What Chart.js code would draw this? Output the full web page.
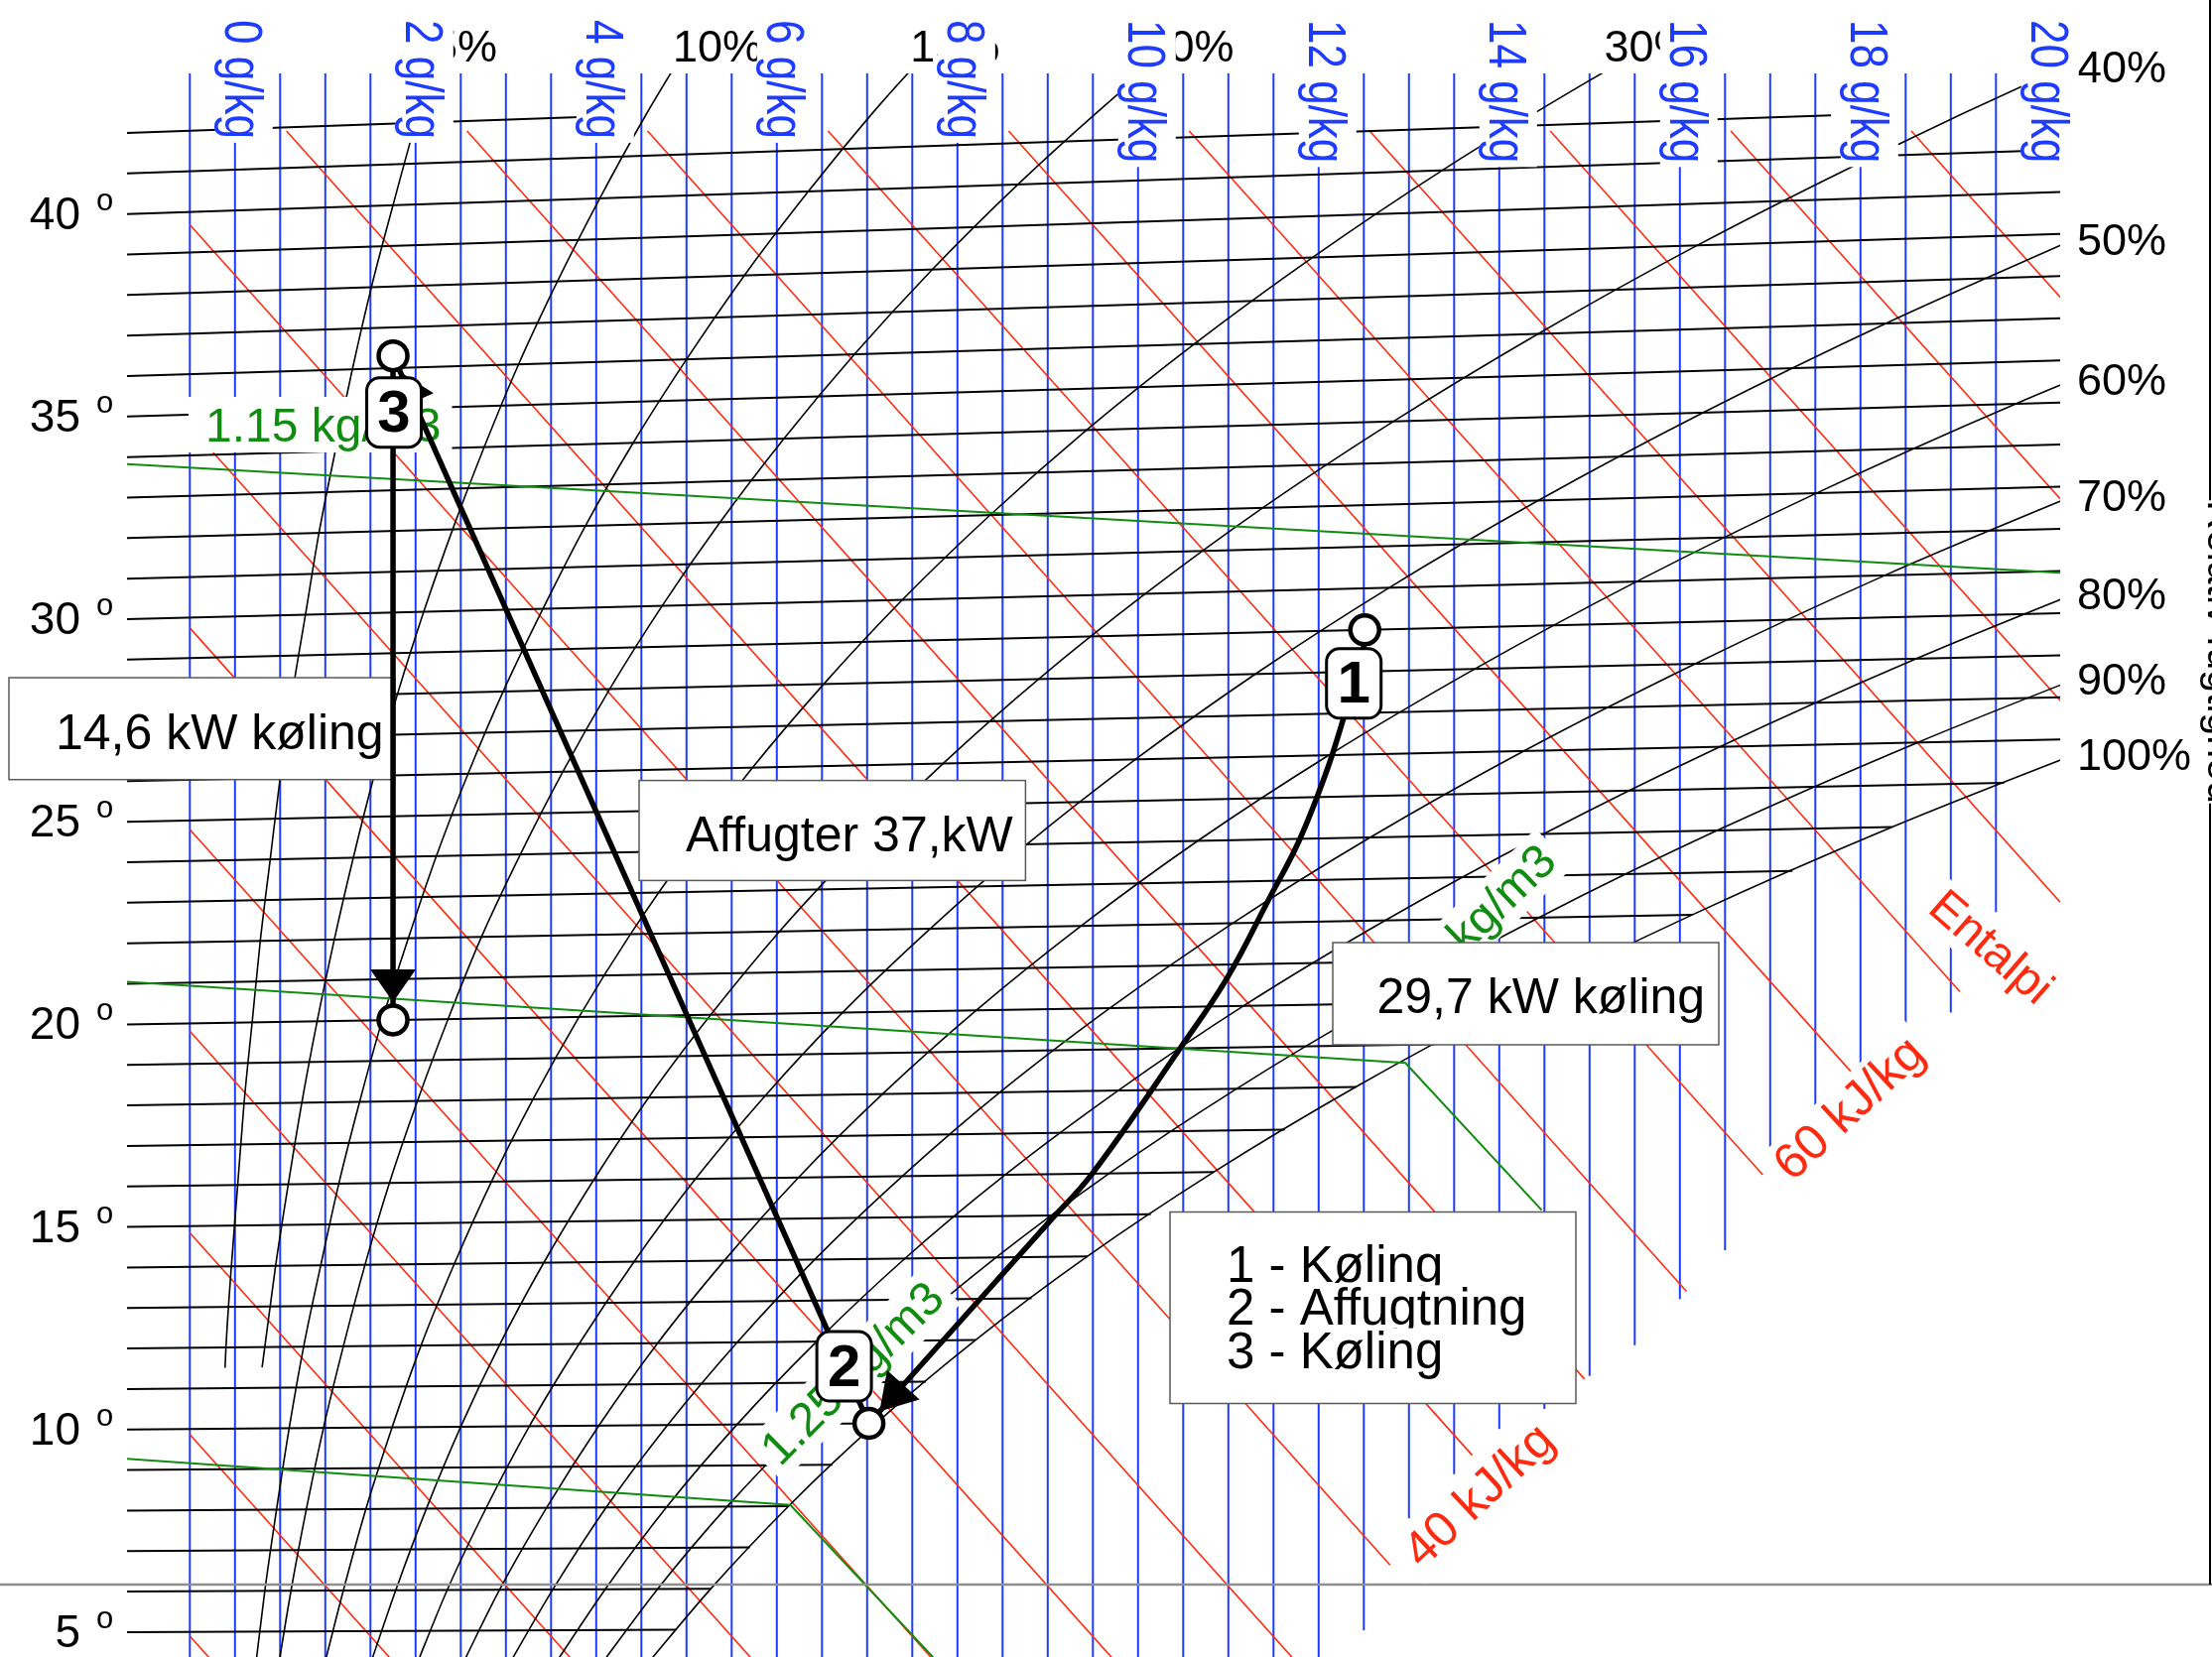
<!DOCTYPE html>
<html lang="da">
<head>
<meta charset="utf-8">
<title>h,x-diagram</title>
<script src="https://cdn.jsdelivr.net/npm/chart.js@4.4.1/dist/chart.umd.min.js"></script>
<style>
  html, body { margin: 0; padding: 0; background: #ffffff; }
  canvas { display: block; }
</style>
</head>
<body>
<canvas id="hx" width="2229" height="1670"></canvas>
<script>
// values: humidity ratio in g/kg (as labelled), temperatures in °C
const tempTicks = [5, 10, 15, 20, 25, 30, 35, 40];
const waterTicks = [0, 2, 4, 6, 8, 10, 12, 14, 16, 18, 20];
const enthalpyLines = [5, 10, 15, 20, 25, 30, 35, 40, 45, 50, 55, 60, 65, 70, 75, 80, 85, 90];

const rhLevels = [5, 10, 15, 20, 30, 40, 50, 60, 70, 80, 90, 100];
const rhTemps = [4, 6, 8, 10, 12, 14, 16, 18, 20, 22, 24, 26, 28, 30, 32, 34, 36, 38, 40, 42, 44];
const rh5   = [null, null, null, null, -0.10, -0.04, 0.03, 0.10, 0.19, 0.28, 0.39, 0.50, 0.63, 0.78, 0.93, 1.11, 1.30, 1.51, 1.75, 2.00, 2.28];
const rh10  = [null, null, null, null, 0.33, 0.45, 0.59, 0.74, 0.91, 1.10, 1.31, 1.54, 1.80, 2.09, 2.41, 2.76, 3.14, 3.57, 4.04, 4.55, 5.11];
const rh15  = [0.22, 0.33, 0.46, 0.60, 0.76, 0.95, 1.15, 1.38, 1.63, 1.92, 2.23, 2.58, 2.97, 3.41, 3.88, 4.41, 5.00, 5.64, 6.35, 7.12, 7.98];
const rh20  = [0.47, 0.62, 0.79, 0.98, 1.20, 1.44, 1.71, 2.02, 2.36, 2.73, 3.16, 3.63, 4.15, 4.73, 5.37, 6.08, 6.86, 7.72, 8.67, 9.72, 10.86];
const rh30  = [0.97, 1.20, 1.45, 1.74, 2.06, 2.43, 2.84, 3.30, 3.81, 4.38, 5.02, 5.73, 6.52, 7.39, 8.36, 9.43, 10.62, 11.93, 13.37, 14.97, 16.72];
const rh40  = [1.47, 1.78, 2.12, 2.50, 2.93, 3.42, 3.97, 4.58, 5.27, 6.03, 6.89, 7.84, 8.90, 10.08, 11.38, 12.83, 14.43, 16.19, 18.15, 20.30, 22.68];
const rh50  = [1.98, 2.35, 2.78, 3.26, 3.81, 4.42, 5.10, 5.87, 6.73, 7.70, 8.77, 9.97, 11.30, 12.78, 14.43, 16.26, 18.28, 20.52];
const rh60  = [2.48, 2.93, 3.45, 4.03, 4.68, 5.42, 6.24, 7.17, 8.21, 9.37, 10.66, 12.11, 13.73, 15.52, 17.51, 19.72, 22.18];
const rh70  = [2.99, 3.52, 4.11, 4.79, 5.56, 6.42, 7.39, 8.47, 9.69, 11.05, 12.57, 14.27, 16.17, 18.27, 20.62];
const rh80  = [3.49, 4.10, 4.78, 5.56, 6.44, 7.42, 8.53, 9.78, 11.17, 12.74, 14.49, 16.44, 18.62, 21.05];
const rh90  = [4.00, 4.68, 5.45, 6.33, 7.32, 8.43, 9.68, 11.09, 12.67, 14.44, 16.41, 18.63, 21.10];
const rh100 = [4.50, 5.27, 6.13, 7.10, 8.20, 9.44, 10.84, 12.41, 14.17, 16.14, 18.35, 20.83];
const rhLowStartT = 11.5;                 // 5 % and 10 % curves stop here
const rhLowStartX = { 5: -0.11, 10: 0.30 };

// density lines (kg/m3): x and temperature of their read points
const densityNames = ['1.15 kg/m3', '1.20 kg/m3', '1.25 kg/m3'];
const dens115X = [-1.20, 20.21], dens115T = [33.83, 29.96];
const dens120X = [-1.20, 12.96, 14.47], dens120T = [21.05, 18.56, 14.98];
const dens125X = [-1.20, 6.15, 7.73], dens125T = [9.28, 8.03, 4.31];

// lower right edge where the blue and red lines stop
const fogEdgeX = [12.0, 12.5, 13.0, 13.5, 14.0, 14.5, 15.0, 15.5, 16.0, 16.5, 17.0, 17.5, 18.0, 18.5, 19.0, 19.5, 20.3];
const fogEdgeT = [3.0, 4.92, 7.61, 8.66, 9.74, 10.21, 10.99, 11.72, 12.81, 13.97, 16.08, 17.24, 18.28, 19.04, 19.56, 21.93, 22.0];

// air states 1, 2, 3 and end of cooling 3
const stateX = [12.51, 7.02, 1.75, 1.75];
const stateT = [29.0, 10.0, 36.3, 20.0];
const coolPathX = [12.51, 12.49, 12.28, 12.08, 11.78, 11.46, 10.99, 10.47, 9.49, 9.01, 7.02];
const coolPathT = [29.0, 28.5, 26.92, 25.57, 23.94, 22.61, 20.69, 19.01, 15.99, 14.83, 10.0];

// ---- diagram geometry ----
const SKEW = 0.001849, X_OFF = 0.53;
const X_MIN = -1.1956, X_MAX = 20.211, Y_MIN = 4.380, Y_MAX = 43.416;
const RED_TOP = 41.997, ISO_TOP = 42.38;
const vOf = (t, x) => t * (1 + SKEW * (x + X_OFF));
const hV = (h, x) => (h - 2.501 * (x + X_OFF)) / 1.006;

const BLUE = '#1e3cff', RED = '#ff2b10', GREEN = '#108c10';
const FONT = '"Liberation Sans", Arial, Helvetica, sans-serif';
const fnt = (s, b) => (b ? 'bold ' : '') + s + 'px ' + FONT;

function interp(xs, ys, v) {
  for (let i = 0; i < xs.length - 1; i++) {
    if (ys[i] == null || ys[i + 1] == null) continue;
    if (v >= xs[i] && v <= xs[i + 1]) return ys[i] + (ys[i + 1] - ys[i]) * (v - xs[i]) / (xs[i + 1] - xs[i]);
  }
  return null;
}
const fogV = fogEdgeX.map((x, i) => vOf(fogEdgeT[i], x));
function fogEdge(x) {
  if (x < fogEdgeX[0]) return -Infinity;
  const n = fogEdgeX.length;
  if (x > fogEdgeX[n - 1]) return fogV[n - 1];
  return interp(fogEdgeX, fogV, x);
}

function lineSet(points, color, width, order, extra) {
  return Object.assign({
    data: points, borderColor: color, borderWidth: width, pointRadius: 0, pointHoverRadius: 0,
    fill: false, tension: 0, order: order, borderCapStyle: 'butt'
  }, extra || {});
}

const datasets = [];

// constant humidity ratio (blue)
for (let i = -1; i <= 39; i++) {
  const x = i / 2;
  const bottom = Math.max(Y_MIN - 1, fogEdge(x));
  datasets.push(lineSet([{ x: x, y: Y_MAX }, { x: x, y: bottom }], BLUE, 2, 50));
}

// constant enthalpy (red)
enthalpyLines.forEach(h => {
  let x0 = -0.5;
  if (hV(h, x0) > RED_TOP) x0 = (h - 1.006 * RED_TOP) / 2.501 - X_OFF;
  let x1 = x0;
  while (x1 < X_MAX) {
    const nx = Math.min(X_MAX, x1 + 0.005);
    if (hV(h, nx) < fogEdge(nx) || hV(h, nx) < Y_MIN - 0.4) break;
    x1 = nx;
    if (nx >= X_MAX) break;
  }
  datasets.push(lineSet([{ x: x0, y: hV(h, x0) }, { x: x1, y: hV(h, x1) }], RED, 1.6, 40));
});

// isotherms
const satX = t => interp(rhTemps, rh100, t);
for (let t = 5; t <= 42; t++) {
  let xEnd = X_MAX;
  const xs = satX(t);
  if (xs !== null && xs < xEnd) xEnd = xs;
  const xTop = (ISO_TOP / t - 1) / SKEW - X_OFF;
  if (xTop < xEnd) xEnd = xTop;
  datasets.push(lineSet([{ x: X_MIN, y: vOf(t, X_MIN) }, { x: xEnd, y: vOf(t, xEnd) }], '#000', 2, 30));
}

// relative humidity curves
const rhData = { 5: rh5, 10: rh10, 15: rh15, 20: rh20, 30: rh30, 40: rh40, 50: rh50, 60: rh60, 70: rh70, 80: rh80, 90: rh90, 100: rh100 };
const rhExit = {};
rhLevels.forEach(level => {
  const pts = [];
  if (rhLowStartX[level] !== undefined) pts.push({ x: rhLowStartX[level], y: vOf(rhLowStartT, rhLowStartX[level]) });
  rhData[level].forEach((x, i) => { if (x !== null) pts.push({ x: x, y: vOf(rhTemps[i], x) }); });
  // where the curve leaves the grid (top or right edge)
  for (let i = 1; i < pts.length; i++) {
    const a = pts[i - 1], b = pts[i];
    if (b.x > X_MAX || b.y > Y_MAX) {
      let f = 1;
      if (b.x > X_MAX) f = Math.min(f, (X_MAX - a.x) / (b.x - a.x));
      if (b.y > Y_MAX) f = Math.min(f, (Y_MAX - a.y) / (b.y - a.y));
      rhExit[level] = { x: a.x + f * (b.x - a.x), y: a.y + f * (b.y - a.y) };
      break;
    }
  }
  datasets.push(lineSet(pts, '#000', 1.6, 20, { cubicInterpolationMode: 'monotone' }));
});

// density lines
[[dens115X, dens115T], [dens120X, dens120T], [dens125X, dens125T]].forEach(([xs, ts]) => {
  datasets.push(lineSet(xs.map((x, i) => ({ x: x, y: vOf(ts[i], x) })), GREEN, 2, 15));
});

// process lines
const S = stateX.map((x, i) => ({ x: x, y: vOf(stateT[i], x) }));
datasets.push(lineSet([S[2], S[3]], '#000', 5.5, 3, { process: true }));
datasets.push(lineSet([S[1], S[2]], '#000', 5.5, 2, { process: true }));
datasets.push(lineSet(coolPathX.map((x, i) => ({ x: x, y: vOf(coolPathT[i], x) })), '#000', 5.5, 1, { process: true, tension: 0.4 }));

// ---- drawing helpers ----
function txt(c, s, x, y, o) {
  c.save();
  c.translate(x, y);
  if (o.sx) c.scale(o.sx, 1);
  if (o.rot) c.rotate(o.rot * Math.PI / 180);
  c.font = o.font;
  c.textAlign = o.align || 'left';
  c.textBaseline = o.base || 'alphabetic';
  if (o.bg) {
    const w = c.measureText(s).width;
    const x0 = c.textAlign === 'left' ? 0 : (c.textAlign === 'right' ? -w : -w / 2);
    c.fillStyle = '#fff';
    c.fillRect(x0 - o.bg[0], -o.bg[1], w + o.bg[0] + o.bg[2], o.bg[1] + o.bg[3]);
  }
  c.fillStyle = o.color || '#000';
  c.fillText(s, 0, o.dy || 0);
  c.restore();
}
function box(c, x, y, w, h) {
  c.fillStyle = '#fff';
  c.fillRect(x, y, w, h);
  c.strokeStyle = '#5a5a5a';
  c.lineWidth = 1.5;
  c.strokeRect(x, y, w, h);
}
function roundBox(c, cx, cy, w, h, r) {
  const x = cx - w / 2, y = cy - h / 2;
  c.beginPath();
  c.moveTo(x + r, y);
  c.arcTo(x + w, y, x + w, y + h, r);
  c.arcTo(x + w, y + h, x, y + h, r);
  c.arcTo(x, y + h, x, y, r);
  c.arcTo(x, y, x + w, y, r);
  c.closePath();
  c.fillStyle = '#fff';
  c.fill();
  c.strokeStyle = '#000';
  c.lineWidth = 3;
  c.stroke();
}
function arrowHead(c, fx, fy, tx, ty, back, len, half) {
  const d = Math.hypot(tx - fx, ty - fy), ux = (tx - fx) / d, uy = (ty - fy) / d;
  const px = tx - ux * back, py = ty - uy * back;
  const bx = px - ux * len, by = py - uy * len;
  c.beginPath();
  c.moveTo(px, py);
  c.lineTo(bx - uy * half, by + ux * half);
  c.lineTo(bx + uy * half, by - ux * half);
  c.closePath();
  c.fillStyle = '#000';
  c.fill();
}

function drawAnnotations(chart) {
  const c = chart.ctx, sx = chart.scales.x, sy = chart.scales.y;
  const px = v => sx.getPixelForValue(v), py = v => sy.getPixelForValue(v);
  c.save();
  // frame lines
  c.strokeStyle = '#8f8f8f'; c.lineWidth = 2.5;
  c.beginPath(); c.moveTo(0, 1597); c.lineTo(2229, 1597); c.stroke();
  c.strokeStyle = '#000'; c.lineWidth = 2;
  c.beginPath(); c.moveTo(2227, 0); c.lineTo(2227, 1597); c.stroke();
  txt(c, 'Relativ fugtighed', 2225, 657, { font: fnt(41), rot: 90, align: 'center', bg: [0, 36, 0, 14] });

  // relative humidity labels
  rhLevels.forEach(level => {
    const e = rhExit[level];
    if (!e) return;
    if (level >= 40) txt(c, level + '%', 2093, Math.max(py(e.y), 74) - 3, { font: fnt(45), base: 'middle' });
    else txt(c, level + '%', px(e.x) + 2, 50, { font: fnt(45), base: 'middle' });
  });

  // humidity ratio labels
  waterTicks.forEach(w => {
    const lx = px(w), s = w + ' g/kg';
    c.font = fnt(44);
    const len = c.measureText(s).width;
    c.fillStyle = '#fff';
    c.fillRect(lx - 20, 8, 58, 20 + len + 4 - 8);
    txt(c, s, lx, 20, { font: fnt(44), color: BLUE, sx: 1.23, rot: 90, dy: 7.6 });
  });

  // temperature labels
  tempTicks.forEach(t => {
    const y0 = py(vOf(t, X_MIN));
    txt(c, String(t), 81, y0 + 15, { font: fnt(46), align: 'right' });
    txt(c, 'o', 97, y0 - 4, { font: fnt(31) });
  });

  // density and enthalpy labels
  txt(c, densityNames[0], 207, 445, { font: fnt(48), color: GREEN, bg: [17, 45, 11, 11] });
  txt(c, densityNames[1], 1400, 1036, { font: fnt(48), color: GREEN, rot: -44, bg: [8, 42, 8, 12] });
  txt(c, densityNames[2], 786, 1479, { font: fnt(48), color: GREEN, rot: -45, bg: [8, 42, 8, 12] });
  txt(c, '40 kJ/kg', 1433, 1582, { font: fnt(50), color: RED, rot: -43, bg: [8, 42, 8, 12] });
  txt(c, '60 kJ/kg', 1806, 1192, { font: fnt(50), color: RED, rot: -43, bg: [8, 42, 8, 12] });
  txt(c, 'Entalpi', 1941, 918, { font: fnt(48), color: RED, rot: 41, bg: [6, 40, 6, 12] });

  // text boxes
  box(c, 9, 683, 388.5, 102.7);
  txt(c, '14,6 kW køling', 56, 754.6, { font: fnt(50) });
  box(c, 644, 786.6, 389.4, 100.8);
  txt(c, 'Affugter 37,kW', 691, 857.7, { font: fnt(50) });
  box(c, 1343, 950, 389, 103);
  txt(c, '29,7 kW køling', 1387.5, 1021.4, { font: fnt(50) });
  box(c, 1179, 1221.5, 409, 193);
  ['1 - Køling', '2 - Affugtning', '3 - Køling'].forEach((s, i) => {
    txt(c, s, 1236, 1292 + i * 43.3, { font: fnt(51), bg: [0, 40, 0, 12] });
  });
  c.restore();
}

function drawMarkers(chart) {
  const c = chart.ctx, sx = chart.scales.x, sy = chart.scales.y;
  const P = S.map(p => ({ x: sx.getPixelForValue(p.x), y: sy.getPixelForValue(p.y) }));
  const n = coolPathX.length;
  const q = { x: sx.getPixelForValue(coolPathX[n - 2]), y: sy.getPixelForValue(vOf(coolPathT[n - 2], coolPathX[n - 2])) };
  c.save();
  arrowHead(c, P[2].x, P[2].y, P[3].x, P[3].y, 18, 33, 23);
  arrowHead(c, P[1].x, P[1].y, P[2].x, P[2].y, 18, 33, 22);
  arrowHead(c, q.x, q.y, P[1].x, P[1].y, 16, 36, 22);
  P.forEach(p => {
    c.beginPath();
    c.arc(p.x, p.y, 14.5, 0, Math.PI * 2);
    c.fillStyle = '#fff'; c.fill();
    c.strokeStyle = '#000'; c.lineWidth = 4.5; c.stroke();
  });
  const offs = [[-11, 54], [-25, -57.5], [1, 57]];
  ['1', '2', '3'].forEach((s, i) => {
    const cx = P[i].x + offs[i][0], cy = P[i].y + offs[i][1];
    roundBox(c, cx, cy, 55, 70, 13);
    txt(c, s, cx, cy + 3, { font: fnt(60, true), align: 'center', base: 'middle' });
  });
  c.restore();
}

const overlay = {
  id: 'overlay',
  beforeDraw(chart) { chart.$annDone = false; },
  beforeDatasetDraw(chart, args) {
    const ds = chart.data.datasets[args.index];
    if (ds.process && !chart.$annDone) { chart.$annDone = true; drawAnnotations(chart); }
  },
  afterDatasetsDraw(chart) { drawMarkers(chart); }
};

new Chart(document.getElementById('hx').getContext('2d'), {
  type: 'line',
  data: { datasets: datasets },
  options: {
    responsive: false,
    animation: false,
    devicePixelRatio: 1,
    events: [],
    layout: { padding: { left: 128, top: 74, right: 153, bottom: 0 } },
    scales: {
      x: { type: 'linear', min: X_MIN, max: X_MAX, display: false },
      y: { type: 'linear', min: Y_MIN, max: Y_MAX, display: false }
    },
    plugins: { legend: { display: false }, tooltip: { enabled: false }, title: { display: false } }
  },
  plugins: [overlay]
});
</script>
</body>
</html>
